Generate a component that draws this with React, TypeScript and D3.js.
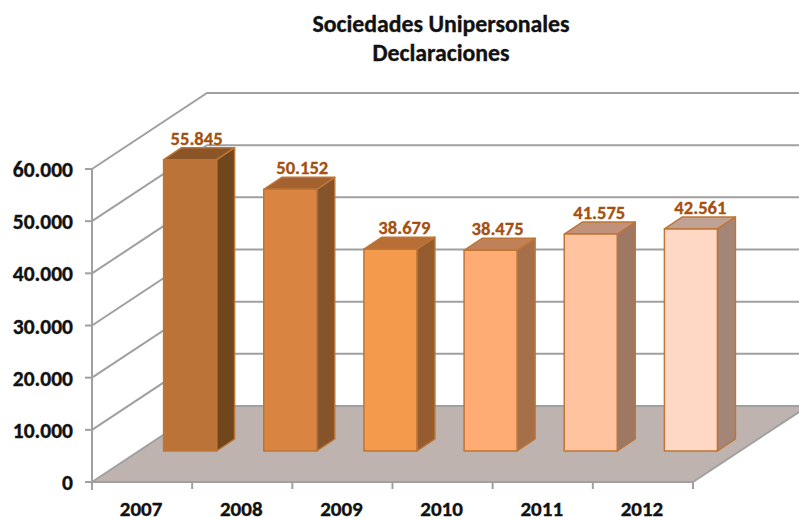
import * as d3 from "d3";

const years = ["2007", "2008", "2009", "2010", "2011", "2012"];
const values = [55845, 50152, 38679, 38475, 41575, 42561];
const labels = ["55.845", "50.152", "38.679", "38.475", "41.575", "42.561"];
const ticks = [0, 10000, 20000, 30000, 40000, 50000, 60000];
const tickLabels = ["0", "10.000", "20.000", "30.000", "40.000", "50.000", "60.000"];
const frontColors = ["#BC7337", "#D98541", "#F49A4D", "#FFAB73", "#FFC3A0", "#FFD8C5"];
const sideColors = ["#70461D", "#85542A", "#945C2F", "#A56F4A", "#9E7862", "#A38677"];
const topColors = ["#8B5528", "#A46230", "#B86F36", "#C08058", "#C1917A", "#BFA294"];

const FONT = "Carlito, Lato, 'Open Sans', sans-serif";
const x0 = 92;
const x1 = 693;
const wallDx = 115;
const wallDy = -76;
const barDepthDx = 18;
const barDepthDy = -12;
const barOffsetDx = 48;
const barOffsetDy = -31;
const barW = 53;
const grey = "#A0A0A0";
const labelNudge = [6.5, 12, 14, 7, 8.5, 9.5];

export default function App() {
  const y = d3.scaleLinear().domain([0, 60000]).range([482, 169]);
  const x = d3.scaleBand().domain(years).range([x0, x1]);
  const poly = (p: number[][]) => p.map((q) => q.join(",")).join(" ");
  const bold = { fontWeight: 700, stroke: "#111", strokeWidth: 0.35, fill: "#111" };
  return (
    <svg
      width={799}
      height={517}
      style={{ position: "absolute", left: 0, top: 0, background: "#fff" }}
      fontFamily={FONT}
    >
      <polygon
        points={poly([
          [x0, y(0)],
          [x1, y(0)],
          [x1 + wallDx, y(0) + wallDy],
          [x0 + wallDx, y(0) + wallDy],
        ])}
        fill="#BEB3AE"
      />
      {ticks.map((t) => (
        <g key={t} stroke={grey} strokeWidth={2} fill="none">
          <polyline
            points={poly([
              [x0, y(t)],
              [x0 + wallDx, y(t) + wallDy],
              [800, y(t) + wallDy],
            ])}
          />
          <line x1={x0 - 7} x2={x0} y1={y(t)} y2={y(t)} />
        </g>
      ))}
      <line x1={x0} x2={x0} y1={y(60000)} y2={y(0) + 8} stroke={grey} strokeWidth={2} />
      <line x1={x0} x2={x1} y1={y(0)} y2={y(0)} stroke={grey} strokeWidth={2} />
      <line x1={x1} x2={x1 + wallDx} y1={y(0)} y2={y(0) + wallDy} stroke={grey} strokeWidth={2} />
      {[...years, "end"].map((d, i) => {
        const px = d === "end" ? x1 : (x(d) as number);
        return <line key={i} x1={px} x2={px} y1={y(0)} y2={y(0) + 7} stroke={grey} strokeWidth={2} />;
      })}
      {years.map((d, i) => {
        const left = (x(d) as number) + x.bandwidth() / 2 - barW / 2 + barOffsetDx;
        const right = left + barW;
        const base = y(0) + barOffsetDy;
        const top = base - (y(0) - y(values[i]));
        return (
          <g key={d} stroke="#BE7536" strokeWidth={1.5} strokeLinejoin="round">
            <polygon
              points={poly([
                [right, top],
                [right + barDepthDx, top + barDepthDy],
                [right + barDepthDx, base + barDepthDy],
                [right, base],
              ])}
              fill={sideColors[i]}
            />
            <polygon
              points={poly([
                [left, top],
                [left + barDepthDx, top + barDepthDy],
                [right + barDepthDx, top + barDepthDy],
                [right, top],
              ])}
              fill={topColors[i]}
            />
            <rect x={left} y={top} width={barW} height={base - top} fill={frontColors[i]} />
            <text
              x={(left + right) / 2 + labelNudge[i]}
              y={top - 15}
              textAnchor="middle"
              fontSize={18.6}
              fontWeight={700}
              fill="#A5500F"
              stroke="#A5500F"
              strokeWidth={0.3}
            >
              {labels[i]}
            </text>
          </g>
        );
      })}
      {ticks.map((t, i) => (
        <text key={t} x={73} y={y(t) + 8} textAnchor="end" fontSize={21.5} {...bold}>
          {tickLabels[i]}
        </text>
      ))}
      {years.map((d) => (
        <text
          key={d}
          x={(x(d) as number) + x.bandwidth() / 2 - 1}
          y={516}
          textAnchor="middle"
          fontSize={21}
          {...bold}
        >
          {d}
        </text>
      ))}
      <text x={441} y={32} textAnchor="middle" fontSize={23.8} {...bold}>
        Sociedades Unipersonales
      </text>
      <text x={441} y={61} textAnchor="middle" fontSize={23.8} {...bold}>
        Declaraciones
      </text>
    </svg>
  );
}
